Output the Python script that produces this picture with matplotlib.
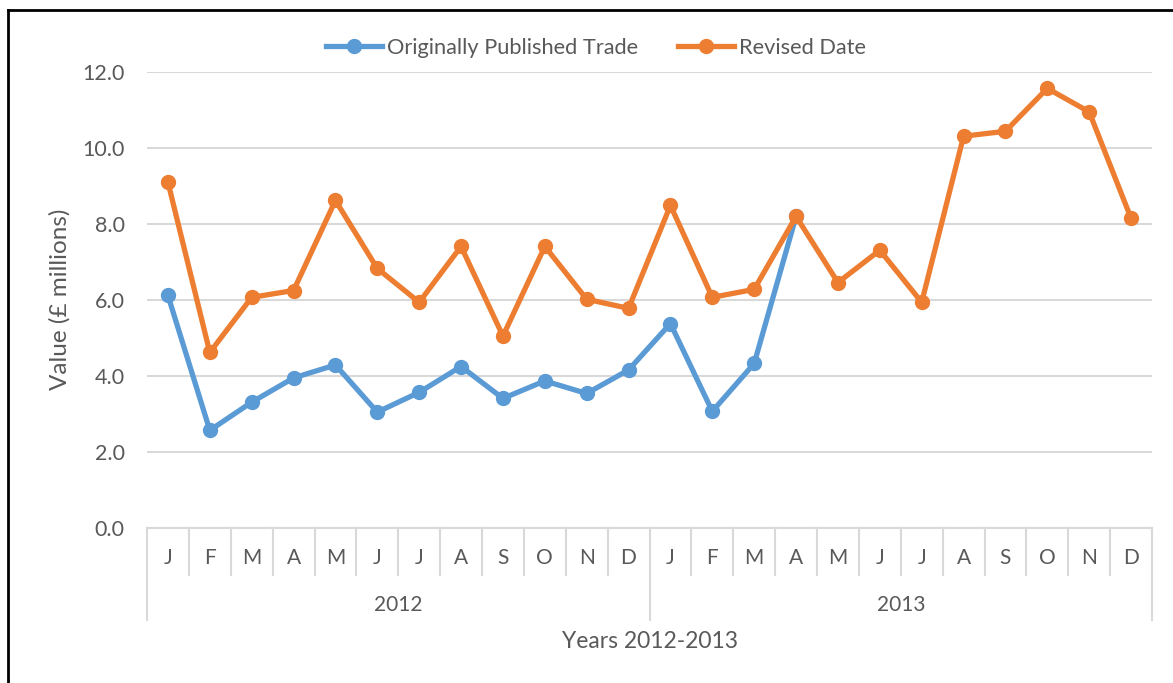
import numpy as np
import matplotlib.pyplot as plt
from matplotlib.lines import Line2D

plt.rcParams['font.family'] = ['Lato', 'DejaVu Sans']

months = ['J', 'F', 'M', 'A', 'M', 'J', 'J', 'A', 'S', 'O', 'N', 'D'] * 2
years = ['2012', '2013']

original = [6.12, 2.57, 3.31, 3.95, 4.29, 3.05, 3.57, 4.25, 3.41, 3.87, 3.54, 4.16,
            5.38, 3.07, 4.33, 8.2]
revised = [9.1, 4.62, 6.07, 6.25, 8.62, 6.83, 5.94, 7.41, 5.05, 7.41, 6.02, 5.78,
           8.49, 6.07, 6.28, 8.2, 6.46, 7.31, 5.94, 10.31, 10.44, 11.57, 10.95, 8.15]

blue = '#5B9BD5'
orange = '#ED7D31'
grey_txt = '#595959'
grid_c = '#D9D9D9'

fig = plt.figure(figsize=(11.73, 6.83), dpi=100)
ax = fig.add_axes([147 / 1173, 1 - 528 / 683, 1005 / 1173, 456 / 683])

x = np.arange(len(months))
ax.plot(np.arange(len(original)), original, color=blue, lw=3.8, marker='o',
        markersize=10, solid_capstyle='round', clip_on=False, zorder=3)
ax.plot(x, revised, color=orange, lw=3.8, marker='o',
        markersize=10, solid_capstyle='round', clip_on=False, zorder=4)

ax.set_xlim(-0.5, len(months) - 0.5)
ax.set_ylim(0, 12)
ax.set_yticks(np.arange(0, 12.1, 2))
ax.set_yticklabels(['%.1f' % v for v in np.arange(0, 12.1, 2)])
ax.yaxis.grid(True, color=grid_c, lw=1.5)
ax.set_axisbelow(True)
ax.tick_params(axis='y', length=0, pad=16, labelsize=15.5, labelcolor=grey_txt)
ax.set_xticks([])
for s in ['left', 'right', 'top']:
    ax.spines[s].set_visible(False)
ax.spines['bottom'].set_color(grid_c)
ax.spines['bottom'].set_linewidth(1.5)

# two-level category axis: month dividers and year separators
tr = ax.get_xaxis_transform()
for k in range(len(months) + 1):
    low = -0.202 if k % 12 == 0 else -0.103
    ax.plot([k - 0.5, k - 0.5], [0, low], color=grid_c, lw=1.5,
            transform=tr, clip_on=False)
for i, m in enumerate(months):
    ax.text(i, -0.066, m, transform=tr, ha='center', va='center',
            fontsize=15, color=grey_txt)
for j, yr in enumerate(years):
    ax.text(j * 12 + 5.5, -0.169, yr, transform=tr, ha='center', va='center',
            fontsize=15, color=grey_txt)
ax.text(11.5, -0.25, 'Years 2012-2013', transform=tr, ha='center', va='center',
        fontsize=16.5, color=grey_txt)

fig.text(60 / 1173, 1 - 299 / 683, 'Value (\u00a3 millions)', rotation=90,
         ha='center', va='center', fontsize=17.5, color=grey_txt)

handles = [Line2D([], [], color=blue, lw=3.8, marker='o', markersize=10),
           Line2D([], [], color=orange, lw=3.8, marker='o', markersize=10)]
leg = fig.legend(handles, ['Originally Published Trade', 'Revised Date'],
                 loc='center', bbox_to_anchor=(596 / 1173, 1 - 48 / 683), ncol=2,
                 frameon=False, fontsize=15.7, handlelength=2.6, handletextpad=0.23,
                 columnspacing=1.8)
for t in leg.get_texts():
    t.set_color(grey_txt)

# outer frame and clipped heading
fig.add_artist(Line2D([8 / 1173, 8 / 1173], [0, 1 - 10 / 683], color='black',
                      lw=2, transform=fig.transFigure))
fig.add_artist(Line2D([8 / 1173, 1], [1 - 10 / 683, 1 - 10 / 683], color='black',
                      lw=2, transform=fig.transFigure))
fig.text(10 / 1173, 1 + 6 / 683, '2013', ha='left', va='center', fontsize=14,
         fontweight='bold', color='black', family='DejaVu Serif')

fig.savefig('out.png', dpi=100)
